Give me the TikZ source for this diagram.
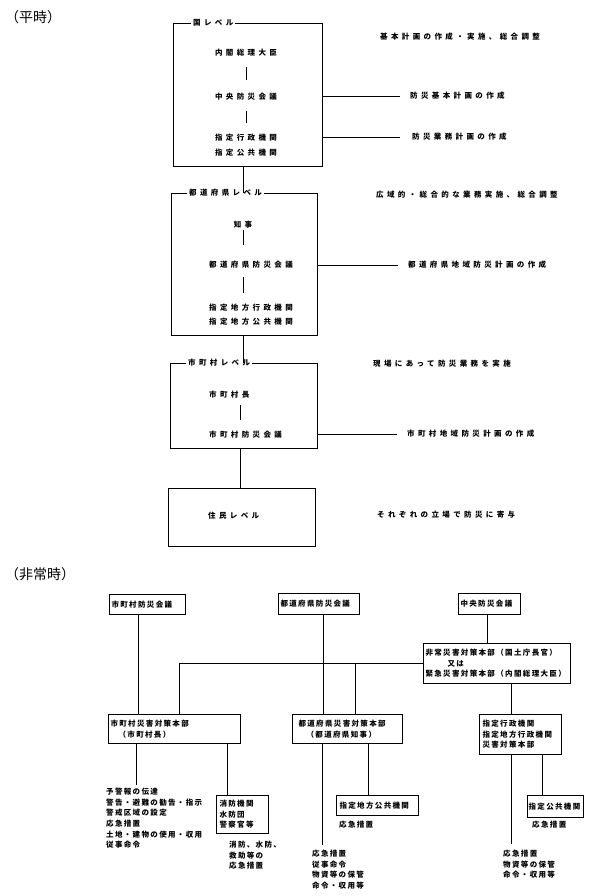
\documentclass[tikz,border=0pt]{standalone}
\usepackage{fontspec}
\usetikzlibrary{positioning}
\newfontfamily\jpwide[LetterSpace=45]{Noto Sans CJK JP}
\newfontfamily\jpnarrow[LetterSpace=18]{Noto Sans CJK JP}
\newfontfamily\jphead{Noto Sans CJK JP}

\begin{document}
\begin{tikzpicture}[
    x=1pt, y=-1pt,
    every node/.style={inner sep=0pt},
    head/.style={anchor=west, font=\jphead\fontsize{14}{16}\selectfont},
    wide/.style={font=\jpwide\bfseries\fontsize{7.5}{9}\selectfont},
    level/.style={draw, line width=1pt, anchor=north west},
    leveltag/.style={wide, anchor=west, fill=white, inner xsep=2pt, inner ysep=1pt},
    plan/.style={wide, anchor=west},
    link/.style={line width=0.9pt},
    hbox/.style={draw, line width=1.1pt, anchor=north west, align=left, inner xsep=2pt,
        font=\jpnarrow\bfseries\fontsize{7.5}{10.5}\selectfont},
    task/.style={anchor=north west, align=left,
        font=\jpnarrow\bfseries\fontsize{7.5}{10.6}\selectfont}
]
\useasboundingbox (0,0) rectangle (600,896);

% Normal times
\node[head] (heiji) at (5,17) {（平時）};

\node[level, minimum width=149pt, minimum height=143pt] (kuni) at (173,23) {};
\node[leveltag] (kunitag) at (191,23) {国レベル};
\node[wide] (souri) at (246,53) {内閣総理大臣};
\node[wide] (chuo) at (246,97) {中央防災会議};
\node[wide] (gyosei) at (246,138) {指定行政機関};
\node[wide] (kokyo1) at (246,153) {指定公共機関};
\node[plan] (kihon) at (380,37) {基本計画の作成・実施、総合調整};
\node[plan] (bkplan) at (410,96) {防災基本計画の作成};
\node[plan] (gyomu) at (412,137) {防災業務計画の作成};

\node[level, minimum width=146pt, minimum height=142pt] (ken) at (171,193) {};
\node[leveltag] (kentag) at (187,193) {都道府県レベル};
\node[wide] (chiji) at (243,225) {知事};
\node[plan] (kenkaigi) at (209,265) {都道府県防災会議};
\node[plan] (chiho1) at (209,308) {指定地方行政機関};
\node[plan] (chiho2) at (209,322) {指定地方公共機関};
\node[plan] (koiki) at (376,195) {広域的・総合的な業務実施、総合調整};
\node[plan] (kenplan) at (408,265) {都道府県地域防災計画の作成};

\node[level, minimum width=147pt, minimum height=85pt] (shi) at (170,363) {};
\node[leveltag] (shitag) at (186,363) {市町村レベル};
\node[plan] (shicho) at (209,395) {市町村長};
\node[plan] (shikaigi) at (209,435) {市町村防災会議};
\node[plan] (genba) at (373,364) {現場にあって防災業務を実施};
\node[plan] (shiplan) at (407,434) {市町村地域防災計画の作成};

\node[level, minimum width=147pt, minimum height=58pt] (jumin) at (168,488) {};
\node[plan] (jumintag) at (208,516) {住民レベル};
\node[plan] (kiyo) at (377,515) {それぞれの立場で防災に寄与};

\coordinate (xs) at (240,0);

% Connections
\draw[link, shorten <=10pt, shorten >=13pt] (souri) -- (chuo);
\draw[link, shorten <=10pt, shorten >=11pt] (chuo) -- (gyosei);
\draw[link, shorten >=10pt] (kuni.east |- bkplan) -- (bkplan);
\draw[link, shorten >=12pt] (kuni.east |- gyomu) -- (gyomu);
\draw[link] (kuni.south -| chiji) -- (ken.north -| chiji);
\draw[link, shorten <=1.5pt, shorten >=20pt] (chiji) -- (chiji |- kenkaigi);
\draw[link, shorten <=8pt, shorten >=11pt] (kenkaigi.south -| chiji) -- (chiho1.north -| chiji);
\draw[link, shorten >=10pt] (ken.east |- kenplan) -- (kenplan);
\draw[link] (ken.south -| chiji) -- (shi.north -| chiji);
\draw[link, shorten <=6pt, shorten >=11pt] (shicho.south -| xs) -- (shikaigi.north -| xs);
\draw[link, shorten >=10pt] (shi.east |- shiplan) -- (shiplan);
\draw[link] (shi.south -| xs) -- (jumin.north -| xs);

% Emergency
\node[head] (hijoji) at (5,574) {（非常時）};

\node[hbox, text width=72pt, minimum height=20pt] (shikai) at (109,594) {市町村防災会議};
\node[hbox, text width=77pt, minimum height=21pt] (kenkai) at (278,593) {都道府県防災会議};
\node[hbox, text width=58pt, minimum height=21pt] (chuokai) at (458,593) {中央防災会議};
\node[hbox, text width=143pt, minimum height=40pt] (hijo) at (423,643)
    {非常災害対策本部（国土庁長官）\\\hspace*{22pt}又は\\緊急災害対策本部（内閣総理大臣）};
\node[hbox, text width=128pt, minimum height=29pt] (shitai) at (108,714)
    {市町村災害対策本部\\\hspace*{8pt}（市町村長）};
\node[hbox, inner xsep=6pt, text width=98pt, minimum height=29pt] (kentai) at (292,714)
    {都道府県災害対策本部\\\hspace*{8pt}（都道府県知事）};
\node[hbox, inner xsep=3pt, text width=76pt, minimum height=40pt] (shitei) at (479,714)
    {指定行政機関\\指定地方行政機関\\災害対策本部};
\node[hbox, inner xsep=3pt, text width=46pt, minimum height=38pt] (shobo) at (216,795)
    {消防機関\\水防団\\警察官等};
\node[hbox, inner xsep=3pt, text width=76pt, minimum height=20pt] (chihokokyo) at (336,795) {指定地方公共機関};
\node[hbox, inner xsep=1pt, text width=54pt, minimum height=22pt] (kokyo) at (527,795) {指定公共機関};

\node[task] (yokei) at (106,788)
    {予警報の伝達\\警告・避難の勧告・指示\\警戒区域の設定\\応急措置\\土地・建物の使用・収用\\従事命令};
\node[task] (shoboact) at (229,841) {消防、水防、\\救助等の\\応急措置};
\node[task] (chihoact) at (339,821) {応急措置};
\node[task] (kenact) at (312,850) {応急措置\\従事命令\\物資等の保管\\命令・収用等};
\node[task] (kokyoact) at (532,821) {応急措置};
\node[task] (shiteiact) at (503,850) {応急措置\\物資等の保管\\命令・収用等};

\coordinate (xa) at (138,0);
\coordinate (xb) at (323,0);
\coordinate (xc) at (487,0);
\coordinate (xd) at (179,0);
\coordinate (xe) at (355,0);
\coordinate (xf) at (511,0);
\coordinate (xg) at (136,0);
\coordinate (xh) at (227,0);
\coordinate (xi) at (322,0);
\coordinate (xj) at (368,0);
\coordinate (xl) at (542,0);

% Connections
\draw[link] (shikai.south -| xa) -- (shitai.north -| xa);
\draw[link] (kenkai.south -| xb) -- (kentai.north -| xb);
\draw[link] (chuokai.south -| xc) -- (hijo.north -| xc);
\draw[link] (hijo.west) -| (shitai.north -| xd);
\draw[link] (hijo.west -| xe) -- (kentai.north -| xe);
\draw[link] (hijo.south -| xf) -- (shitei.north -| xf);
\draw[link, shorten >=3pt] (shitai.south -| xg) -- (yokei.north -| xg);
\draw[link] (shitai.south -| xh) -- (shobo.north -| xh);
\draw[link, shorten >=5pt] (kentai.south -| xi) -- (kenact.north -| xi);
\draw[link] (kentai.south -| xj) -- (chihokokyo.north -| xj);
\draw[link, shorten >=6pt] (shitei.south -| xf) -- (shiteiact.north -| xf);
\draw[link] (shitei.south -| xl) -- (kokyo.north -| xl);

\end{tikzpicture}
\end{document}
